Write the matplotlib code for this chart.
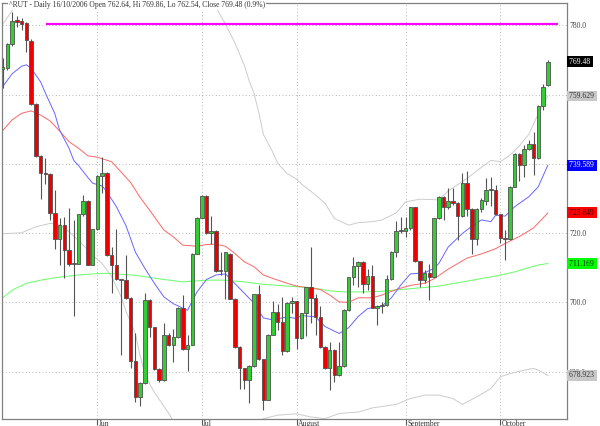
import pandas as pd
import matplotlib
matplotlib.use("Agg")
import matplotlib.pyplot as plt
import matplotlib.transforms as mtransforms

plt.rcParams["font.family"] = ["Liberation Serif", "DejaVu Serif"]

# trading days shown (US holidays removed)
dates = pd.bdate_range("2006-05-03", "2006-10-16")
dates = dates[~dates.isin(pd.to_datetime(["2006-05-29", "2006-07-04", "2006-09-04"]))]

opens = [767.5, 767.6, 774.5, 781.5, 781.3, 780.6, 775.6, 757.2, 742.3, 737.4,
         737.2, 725.7, 718.2, 722.3, 715.1, 711.2, 711.2, 725.4, 729.3, 710.9,
         721.1, 736.5, 737.3, 713.6, 710.7, 706.6, 706.4, 701.3, 683.1, 672.7,
         676.8, 700.8, 692.9, 680.6, 677.5, 690.5, 687.8, 690.0, 698.5, 686.4,
         687.8, 714.1, 724.5, 730.7, 719.9, 720.6, 709.1, 709.1, 714.1, 701.1,
         687.1, 680.9, 677.5, 681.6, 702.3, 683.5, 671.9, 690.7, 697.3, 694.4,
         685.8, 699.8, 700.3, 689.7, 696.8, 704.3, 701.3, 695.8, 687.1, 680.9,
         686.2, 679.0, 681.6, 697.8, 707.2, 710.6, 711.6, 705.3, 707.7, 698.5,
         699.0, 699.2, 706.6, 714.6, 720.6, 720.6, 721.4, 727.4, 711.9, 706.4,
         708.4, 707.4, 724.3, 730.5, 727.4, 729.2, 728.6, 724.9, 734.4, 727.0,
         718.3, 727.0, 729.2, 732.4, 732.4, 725.4, 718.6, 718.2, 733.4, 742.8,
         739.6, 744.3, 745.6, 741.6, 756.8, 762.64]
highs = [770.5, 775.0, 784.0, 782.7, 782.2, 781.0, 776.0, 757.5, 742.5, 741.8,
         737.4, 732.4, 724.5, 724.7, 727.3, 723.8, 725.6, 731.0, 729.5, 721.3,
         736.7, 741.9, 737.5, 715.9, 721.1, 706.8, 713.8, 701.5, 691.0, 677.0,
         702.6, 701.0, 693.0, 681.0, 693.9, 691.0, 692.4, 698.7, 702.0, 690.7,
         714.3, 724.7, 731.0, 731.0, 725.0, 720.8, 714.5, 714.6, 714.3, 701.3,
         687.3, 681.1, 681.8, 702.5, 705.0, 683.7, 690.9, 700.5, 699.5, 701.5,
         700.0, 701.5, 700.5, 697.0, 704.5, 715.9, 702.5, 699.0, 687.3, 688.5,
         686.4, 688.5, 698.0, 707.4, 713.0, 712.0, 711.8, 709.5, 710.8, 699.2,
         700.0, 707.8, 714.8, 723.5, 724.7, 724.7, 727.6, 727.6, 712.0, 709.3,
         711.0, 724.5, 730.7, 730.7, 732.9, 732.9, 729.0, 737.3, 738.0, 727.2,
         727.2, 730.0, 736.0, 736.3, 734.0, 725.6, 721.0, 733.6, 743.0, 743.0,
         745.5, 746.9, 749.3, 757.0, 763.0, 769.86]
lows = [762.0, 767.0, 774.0, 779.6, 778.7, 772.4, 757.0, 742.0, 729.8, 734.2,
        723.8, 715.4, 710.8, 706.9, 710.5, 696.0, 711.0, 725.0, 710.7, 710.7,
        721.0, 731.7, 713.4, 702.8, 706.4, 684.9, 701.0, 681.0, 671.2, 670.0,
        676.5, 690.0, 680.4, 677.0, 677.3, 687.5, 682.8, 689.8, 686.2, 680.2,
        687.6, 714.0, 724.3, 719.7, 716.8, 708.9, 707.8, 701.1, 700.9, 686.9,
        675.1, 675.0, 670.8, 681.4, 683.3, 668.8, 671.7, 690.5, 692.0, 684.7,
        685.6, 697.0, 686.4, 689.5, 690.2, 694.1, 690.5, 686.9, 680.7, 674.8,
        677.0, 678.8, 681.4, 697.6, 705.0, 704.5, 702.6, 703.7, 698.3, 693.4,
        697.0, 699.0, 706.4, 713.0, 720.0, 719.0, 721.0, 711.7, 704.5, 705.5,
        700.6, 707.2, 724.0, 723.8, 727.0, 728.0, 717.9, 724.7, 725.0, 714.1,
        716.5, 726.0, 728.0, 727.8, 725.2, 717.0, 712.2, 718.0, 733.2, 735.0,
        736.3, 744.0, 736.8, 741.4, 755.5, 762.54]
closes = [768.0, 774.5, 781.4, 781.0, 780.5, 775.8, 757.2, 742.3, 737.4, 737.0,
          725.7, 718.2, 722.3, 715.1, 711.2, 711.0, 725.4, 729.4, 710.9, 721.1,
          736.5, 737.3, 713.6, 710.7, 706.6, 706.4, 701.3, 683.1, 672.7, 676.8,
          700.8, 692.9, 680.6, 677.5, 690.5, 687.8, 690.0, 698.5, 686.4, 687.8,
          714.1, 724.5, 730.7, 719.9, 720.6, 709.1, 709.0, 714.4, 701.1, 687.1,
          680.9, 677.5, 681.6, 702.3, 683.5, 671.9, 690.7, 697.3, 694.4, 685.8,
          699.8, 700.3, 689.7, 696.8, 704.3, 701.3, 695.8, 687.1, 680.9, 686.2,
          679.0, 681.6, 697.8, 707.2, 710.6, 711.6, 705.3, 707.7, 698.5, 699.0,
          699.2, 706.6, 714.6, 720.6, 720.6, 721.4, 727.4, 711.9, 706.4, 708.4,
          707.4, 724.3, 730.5, 727.4, 729.3, 728.6, 724.9, 734.4, 727.0, 718.3,
          727.0, 729.5, 732.4, 732.5, 725.4, 718.6, 718.2, 733.4, 742.8, 739.6,
          744.3, 745.6, 741.6, 756.8, 762.3, 769.48]

# indicator lines as (bar, value)
ma_fast = [(0, 762.3), (2, 766.0), (4, 768.2), (5, 768.6), (6, 767.6), (8, 763.7), (9, 760.5),
           (11, 754.5), (12, 749.8), (14, 744.5), (15, 741.0), (16, 739.5), (18, 736.0),
           (19, 734.4), (21, 733.6), (22, 731.9), (24, 727.6), (26, 722.2), (28, 714.5),
           (30, 709.8), (32, 705.5), (34, 701.6), (36, 699.6), (39, 697.7), (41, 703.0),
           (43, 706.6), (45, 707.9), (47, 708.2), (48, 706.8), (51, 702.6), (53, 699.8),
           (55, 695.5), (57, 694.9), (60, 695.8), (62, 695.3), (63, 696.2), (66, 695.8),
           (68, 693.0), (71, 691.0), (73, 692.7), (75, 695.9), (77, 698.2), (80, 698.9),
           (82, 701.3), (84, 705.0), (86, 708.2), (89, 708.5), (91, 709.8), (92, 711.2),
           (94, 716.0), (97, 719.9), (99, 722.0), (101, 723.8), (103, 723.3), (104, 725.2),
           (106, 724.9), (108, 727.6), (111, 730.5), (113, 733.4), (115, 739.6)]
ma_mid = [(0, 749.6), (2, 752.7), (4, 754.6), (6, 755.3), (8, 754.1), (10, 752.4), (12, 749.5),
          (14, 746.4), (16, 744.5), (18, 742.3), (20, 741.9), (23, 740.6), (25, 737.6),
          (27, 734.6), (29, 730.3), (31, 726.6), (32, 724.7), (34, 720.9), (36, 718.9),
          (38, 716.5), (41, 716.2), (43, 716.7), (45, 716.8), (47, 716.2), (49, 714.1),
          (51, 711.7), (53, 710.3), (55, 707.9), (57, 706.9), (60, 705.5), (62, 704.7),
          (63, 704.5), (67, 703.7), (69, 702.1), (71, 700.1), (73, 700.0), (75, 701.3),
          (78, 701.3), (80, 702.1), (83, 703.7), (86, 704.9), (89, 705.5), (91, 706.8),
          (94, 709.6), (98, 712.8), (101, 714.0), (104, 715.5), (106, 717.0), (109, 719.0),
          (112, 721.5), (115, 725.8)]
ma_slow = [(0, 701.3), (2, 703.5), (5, 705.5), (8, 706.4), (11, 707.1), (14, 707.6), (16, 707.9),
           (19, 708.2), (22, 708.4), (25, 708.1), (28, 707.8), (30, 707.4), (34, 706.6),
           (38, 705.9), (43, 706.4), (47, 706.4), (51, 705.9), (55, 705.2), (60, 704.7),
           (62, 704.5), (65, 704.3), (69, 703.3), (72, 703.0), (76, 703.0), (80, 703.2),
           (84, 703.7), (89, 704.3), (92, 704.7), (97, 705.9), (104, 707.6), (108, 708.8),
           (113, 710.8), (115, 711.2)]
band_upper = [(0, 780.3), (2, 784.2), (4, 789.0), (8, 796.0), (15, 802.0), (25, 806.0),
              (35, 805.0), (41, 797.0), (44, 787.5), (47, 780.4), (49, 774.9), (51, 768.4),
              (52, 764.0), (53, 760.5), (54, 755.0), (55, 748.5), (57, 743.3), (58, 740.2),
              (60, 737.2), (62, 735.6), (63, 734.2), (66, 731.0), (68, 728.6), (70, 724.2),
              (73, 722.3), (75, 723.0), (78, 723.3), (80, 723.8), (83, 725.8), (85, 729.0),
              (88, 729.8), (92, 729.6), (94, 732.2), (98, 735.8), (101, 739.0), (103, 741.0),
              (105, 740.6), (107, 742.5), (109, 745.2), (111, 748.5), (113, 754.5), (115, 759.6)]
band_lower = [(0, 719.8), (4, 720.1), (7, 721.8), (10, 722.8), (12, 722.5), (14, 720.4),
              (17, 716.5), (19, 713.6), (21, 711.2), (23, 707.4), (25, 701.6), (26, 697.5),
              (28, 691.0), (29, 684.5), (30, 679.5), (31, 676.5), (32, 674.0), (33, 672.0),
              (35, 668.0), (38, 661.0), (45, 658.0), (52, 662.0), (55, 666.4), (58, 667.4),
              (62, 667.8), (65, 666.9), (68, 666.4), (71, 667.9), (75, 668.3), (78, 669.5),
              (83, 670.5), (86, 672.2), (89, 673.2), (92, 673.2), (95, 672.2), (97, 670.5),
              (100, 672.7), (103, 675.1), (105, 678.5), (107, 679.4), (110, 680.4),
              (112, 680.9), (113, 680.4), (115, 678.9)]

resistance_level = 780.3
resistance_span = (9.1, 117.1)

month_labels = ["Jun", "Jul", "August", "September", "October"]
y_ticks = [680, 700, 720, 740, 760, 780]
hidden_ticks = [740, 760]  # covered by the last-value boxes in the original
last_labels = [("769.48", 769.48, "black", "white"),
               ("759.629", 759.629, "#c8c8c8", "#333333"),
               ("739.589", 739.589, "#0000ff", "white"),
               ("725.849", 725.849, "#ff0000", "#330000"),
               ("711.169", 711.169, "#00ff00", "#003300"),
               ("678.923", 678.923, "#c8c8c8", "#333333")]
title = "^RUT - Daily 16/10/2006 Open 762.64, Hi 769.86, Lo 762.54, Close 769.48 (0.9%)"


def draw_line(ax, pts, color, z=2):
    xs, ys = zip(*pts)
    ax.plot(xs, ys, color=color, lw=0.7, zorder=z)


fig = plt.figure(figsize=(6, 4.26), dpi=100)
ax = fig.add_axes([1.7 / 600, 1 - 419 / 426, 565.3 / 600, 416.5 / 426])

n = len(closes)
idx = list(range(n))

# grid
month_pos = [i for i in range(1, n) if dates[i].month != dates[i - 1].month]
for p in month_pos:
    ax.axvline(p, color="#a0a0a0", lw=0.6, ls=(0, (1, 3)), zorder=0)
for yv in y_ticks:
    ax.axhline(yv, color="#a0a0a0", lw=0.6, ls=(0, (1, 3)), zorder=0)

draw_line(ax, band_upper, "#cccccc")
draw_line(ax, band_lower, "#cccccc")
draw_line(ax, ma_slow, "#66ff66")
draw_line(ax, ma_mid, "#ff6666")
draw_line(ax, ma_fast, "#6666ff")

ax.hlines(resistance_level, resistance_span[0], resistance_span[1],
          color="#ff00ff", lw=1.6, zorder=3)

# candles
ax.vlines(idx, lows, highs, color="#555555", lw=0.8, zorder=4)
bottoms = [min(o, c) for o, c in zip(opens, closes)]
heights = [max(abs(c - o), 0.25) for o, c in zip(opens, closes)]
colors = ["#33cc33" if c > o + 0.2 else ("#ee0000" if c < o - 0.2 else "#777777")
          for o, c in zip(opens, closes)]
ax.bar(idx, heights, bottom=bottoms, width=0.74, color=colors,
       edgecolor="#505050", linewidth=0.6, zorder=5)

ax.set_xlim(-0.2, 119.05)
ax.set_ylim(666.3, 786.6)

for s in ax.spines.values():
    s.set_color("#808080")
    s.set_linewidth(0.9)

ax.set_xticks(month_pos)
ax.set_xticklabels(month_labels, ha="left")
ax.tick_params(axis="x", length=4, direction="out", pad=-3, labelsize=5.5,
               color="#555555", labelcolor="#333333")
shift = mtransforms.ScaledTranslation(1.5 / 100, 0, fig.dpi_scale_trans)
for lbl in ax.get_xticklabels():
    lbl.set_transform(lbl.get_transform() + shift)

ax.yaxis.tick_right()
ax.set_yticks(y_ticks)
ax.set_yticklabels(["" if v in hidden_ticks else f"{v:.1f}" for v in y_ticks])
ax.tick_params(axis="y", length=0, pad=1.5, labelsize=5.5, labelcolor="#444444")

trans = mtransforms.blended_transform_factory(ax.transAxes, ax.transData)
for txt, val, fc, tc in last_labels:
    ax.text(1.003, val, txt + " ", transform=trans, ha="left", va="center",
            fontsize=5.5, color=tc, clip_on=False, zorder=10,
            bbox=dict(boxstyle="square,pad=0.18", fc=fc, ec="none"))

fig.text(9 / 600, 1 - 5 / 426, title, ha="left", va="center", fontsize=5.5,
         color="#333333",
         bbox=dict(boxstyle="square,pad=0.15", fc="white", ec="none"))

fig.savefig("out.png", dpi=100, facecolor="white")
